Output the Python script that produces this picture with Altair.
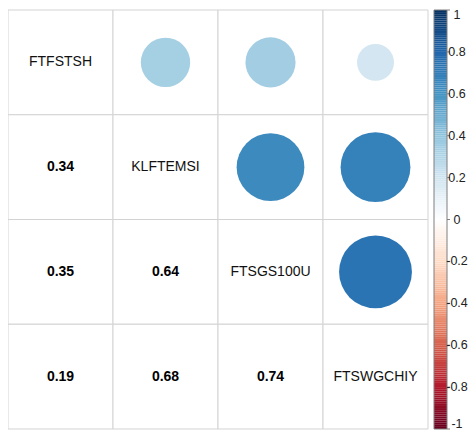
import altair as alt
import pandas as pd
import numpy as np

variables = ["FTFSTSH", "KLFTEMSI", "FTSGS100U", "FTSWGCHIY"]
# correlation matrix
corr = [
    [1.00, 0.34, 0.35, 0.19],
    [0.34, 1.00, 0.64, 0.68],
    [0.35, 0.64, 1.00, 0.74],
    [0.19, 0.68, 0.74, 1.00],
]
col_stops = [-1, -0.8, -0.6, -0.4, -0.2, 0, 0.2, 0.4, 0.6, 0.8, 1]
col_colors = ["#67001F", "#B2182B", "#D6604D", "#F4A582", "#FDDBC7", "#FFFFFF",
              "#D1E5F0", "#92C5DE", "#4393C3", "#2166AC", "#053061"]
bar_ticks = [1, 0.8, 0.6, 0.4, 0.2, 0, -0.2, -0.4, -0.6, -0.8, -1]

n = len(variables)

# ---- layout (pixels of the plot area, which starts at page x 8, y 8) ----
PW, PH = 460, 422
CW, CH = 105.0, 104.75     # cell size
TOP = 2.0                  # grid top offset inside plot area
BX0, BX1 = 426 / CW, 439 / CW      # colour bar
TX0, TX1 = 439 / CW, 442 / CW      # tick marks
LX = 449.0 / CW                    # label centre

rows = []
for i in range(n):
    for j in range(n):
        rows.append(dict(r=i, c=j, r2=i + 1, c2=j + 1, xm=j + 0.5, ym=i + 0.5,
                         val=corr[i][j], absval=abs(corr[i][j]),
                         kind="diag" if i == j else ("upper" if j > i else "lower"),
                         name=variables[i], lab=f"{corr[i][j]:.2f}"))
df = pd.DataFrame(rows)

color_scale = alt.Scale(domain=col_stops, range=col_colors, interpolate="rgb")
xs = alt.Scale(domain=[0, PW / CW], nice=False, zero=False)
ys = alt.Scale(domain=[(PH - TOP) / CH, -TOP / CH], nice=False, zero=False)

base = alt.Chart(df)
X = lambda f: alt.X(f, scale=xs, axis=None)
Y = lambda f: alt.Y(f, scale=ys, axis=None)

cells = base.mark_rect(fill="white", stroke="#D3D3D3", strokeWidth=1).encode(
    x=X("c:Q"), x2="c2:Q", y=Y("r:Q"), y2="r2:Q")

max_area = np.pi * (0.91 * CW / 2) ** 2
circles = base.transform_filter("datum.kind == 'upper'").mark_circle(opacity=1).encode(
    x=X("xm:Q"), y=Y("ym:Q"),
    size=alt.Size("absval:Q", scale=alt.Scale(domain=[0, 1], range=[0, max_area]), legend=None),
    color=alt.Color("val:Q", scale=color_scale, legend=None),
)

nums = base.transform_filter("datum.kind == 'lower'").mark_text(
    font="Liberation Sans", fontSize=14, fontWeight="bold", color="black"
).encode(x=X("xm:Q"), y=Y("ym:Q"), text="lab:N")

names = base.transform_filter("datum.kind == 'diag'").mark_text(
    font="Liberation Sans", fontSize=14, color="#111111"
).encode(x=X("xm:Q"), y=Y("ym:Q"), text="name:N")

# ---- colour bar (own y scale: value -> pixel) ----
b = 209.5
a = 211.5    # value 1 -> plot y 2, value -1 -> plot y 421
vys = alt.Scale(domain=[(a - PH) / b, a / b], nice=False, zero=False)
VY = lambda f: alt.Y(f, scale=vys, axis=None)

steps = np.linspace(-1, 1, 201)
bar_df = pd.DataFrame({"lo": steps[:-1], "hi": steps[1:], "mid": (steps[:-1] + steps[1:]) / 2,
                       "x0": BX0, "x1": BX1})
bar = alt.Chart(bar_df).mark_rect(strokeWidth=0).encode(
    x=X("x0:Q"), x2="x1:Q", y=VY("lo:Q"), y2="hi:Q",
    color=alt.Color("mid:Q", scale=color_scale, legend=None),
)
frame_df = pd.DataFrame({"lo": [-1], "hi": [1], "x0": [BX0], "x1": [BX1]})
frame = alt.Chart(frame_df).mark_rect(fill=None, stroke="#7F7F7F", strokeWidth=1).encode(
    x=X("x0:Q"), x2="x1:Q", y=VY("lo:Q"), y2="hi:Q")

tick_df = pd.DataFrame({"v": bar_ticks, "x0": TX0, "x1": TX1, "lx": LX,
                        "t": [f"{v:g}" for v in bar_ticks]})
ticks = alt.Chart(tick_df).mark_rule(color="#7F7F7F", strokeWidth=1).encode(
    x=X("x0:Q"), x2="x1:Q", y=VY("v:Q"))

lab_style = dict(font="Liberation Sans", fontSize=12.5, color="#222222", align="center", baseline="middle")
tl_mid = alt.Chart(tick_df).transform_filter("abs(datum.v) < 1").mark_text(**lab_style).encode(
    x=X("lx:Q"), y=VY("v:Q"), text="t:N")
tl_top = alt.Chart(tick_df).transform_filter("datum.v == 1").mark_text(dy=5, **lab_style).encode(
    x=X("lx:Q"), y=VY("v:Q"), text="t:N")
tl_bot = alt.Chart(tick_df).transform_filter("datum.v == -1").mark_text(dy=-5, **lab_style).encode(
    x=X("lx:Q"), y=VY("v:Q"), text="t:N")

chart = alt.layer(cells, circles, nums, names, bar, frame, ticks, tl_mid, tl_top, tl_bot).resolve_scale(
    y="independent"
).properties(
    width=PW, height=PH, padding=0, autosize=alt.AutoSizeParams(type="none")
).configure_view(stroke=None)

chart.save("out.html", embed_options={"renderer": "svg", "actions": False})
